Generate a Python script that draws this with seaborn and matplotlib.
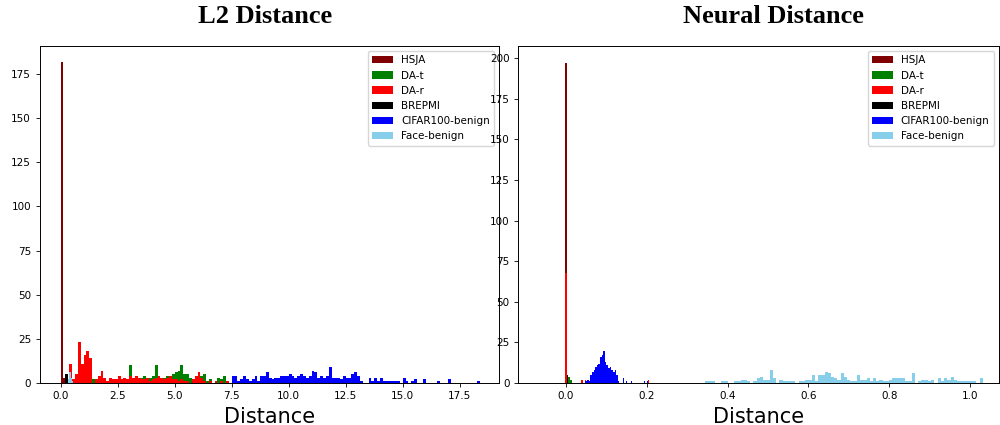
import numpy as np
import pandas as pd
import matplotlib
matplotlib.use("Agg")
import matplotlib.pyplot as plt
from matplotlib.patches import Patch
import seaborn as sns

# ---------------- data (bin start, bin width, counts) ----------------
series_names = ["HSJA", "DA-t", "DA-r", "BREPMI", "CIFAR100-benign", "Face-benign"]
series_colors = ["#800000", "#008000", "#ff0000", "#000000", "#0000ff", "#87ceeb"]

# L2 distance panel
l2_hsja_start, l2_hsja_width = 0.0, 0.1
l2_hsja = [182, 3, 1]

l2_dat_start, l2_dat_width = 1.375, 0.125
l2_dat = [2,
          0, 1, 0, 1,
          1, 0, 2, 1,
          1, 2, 1, 2,
          10, 2, 3, 2,
          3, 4, 2, 3,
          4, 10, 3, 2,
          3, 4, 2, 5,
          6, 7, 10, 5,
          5, 3, 2, 1,
          5, 4, 5, 1,
          2, 0, 1, 3,
          2, 4, 1, 0,
          1, 0, 0, 2, 1]

l2_dar_start, l2_dar_width = 0.375, 0.125
l2_dar = [11, 2, 5, 23, 11, 16, 18, 14,
          0, 2, 4, 7, 3, 1, 3, 2, 2,
          4, 2, 3, 2, 4, 3, 4, 3, 2, 2, 3, 1,
          2, 3, 4, 3, 2, 3, 4, 2,
          2, 1, 2, 1, 1, 0, 2,
          4, 6, 3, 1,
          0, 1, 0, 1, 0, 1, 0, 1,
          0, 0, 1, 0, 0, 0, 0, 0,
          0, 2]

l2_brepmi_start, l2_brepmi_width = 0.2, 0.1
l2_brepmi = [5, 1]

l2_cifar_start, l2_cifar_width = 7.5, 0.125
l2_cifar = [4, 4, 1, 2, 4, 2, 1, 2,
            4, 1, 4, 4, 6, 3, 2, 3,
            3, 4, 4, 4, 5, 4, 3, 4,
            5, 4, 3, 4, 7, 6, 3, 4,
            3, 4, 9, 3, 3, 3, 2, 4,
            3, 3, 5, 6, 4, 1, 0, 0,
            3, 1, 3, 1, 3, 1, 1, 1,
            1, 1, 1, 0, 3, 1, 0, 1,
            2, 0, 0, 2, 0, 0, 0, 0,
            1, 0, 0, 0, 2, 0, 0, 0,
            0, 0, 0, 0, 0, 0, 1]

l2_face_start, l2_face_width = 0.3, 0.05
l2_face = [2, 6, 6, 3, 1]

# Neural distance panel
nd_hsja_start, nd_hsja_width = -0.002, 0.004
nd_hsja = [197]

nd_dat_start, nd_dat_width = 0.002, 0.004
nd_dat = [4, 4, 2]

nd_dar_start, nd_dar_width = -0.002, 0.004
nd_dar = [68] + [0] * 9 + [2, 0, 2] + [0] * 38 + [2]

nd_brepmi_start, nd_brepmi_width = 0.002, 0.004
nd_brepmi = [5]

nd_cifar_start, nd_cifar_width = 0.048, 0.004
nd_cifar = ([1, 2, 1, 5, 7, 8, 10, 11, 12, 16, 17, 20,
             13, 11, 9, 10, 8, 7, 8, 5, 1, 0, 0,
             3, 0, 1, 0, 0, 1]
            + [0] * 7 + [1, 0, 1] + [0] * 40 + [1])

nd_face_start, nd_face_width = 0.344, 0.008
nd_face = [1, 1, 1, 0, 0, 1, 1, 0, 0, 1,
           1, 2, 2, 1, 0, 1, 3, 4, 2, 2,
           8, 3, 0, 2, 1, 1, 1, 1, 0, 1,
           1, 2, 2, 5, 1, 5, 5, 7, 6, 4,
           3, 2, 6, 4, 2, 1, 1, 5, 2, 2,
           3, 1, 3, 1, 2, 1, 1, 2, 3, 3,
           3, 3, 1, 1, 6, 0, 1, 2, 2, 1,
           2, 0, 3, 1, 3, 2, 4, 2, 1, 1,
           1, 1, 1, 1, 0, 3]

l2_series = [(l2_hsja_start, l2_hsja_width, l2_hsja),
             (l2_dat_start, l2_dat_width, l2_dat),
             (l2_dar_start, l2_dar_width, l2_dar),
             (l2_brepmi_start, l2_brepmi_width, l2_brepmi),
             (l2_cifar_start, l2_cifar_width, l2_cifar),
             (l2_face_start, l2_face_width, l2_face)]
nd_series = [(nd_hsja_start, nd_hsja_width, nd_hsja),
             (nd_dat_start, nd_dat_width, nd_dat),
             (nd_dar_start, nd_dar_width, nd_dar),
             (nd_brepmi_start, nd_brepmi_width, nd_brepmi),
             (nd_cifar_start, nd_cifar_width, nd_cifar),
             (nd_face_start, nd_face_width, nd_face)]

# ---------------- plotting ----------------
fig = plt.figure(figsize=(10, 4.25), dpi=100)
axL = fig.add_axes([0.0395, 0.0988, 0.4595, 0.793])
axR = fig.add_axes([0.518, 0.0988, 0.481, 0.793])


def draw(ax, series):
    for (start, width, counts), color in zip(series, series_colors):
        counts = np.asarray(counts, dtype=float)
        edges = start + width * np.arange(len(counts) + 1)
        centers = edges[:-1] + width / 2
        df = pd.DataFrame({"d": centers, "w": counts})
        sns.histplot(data=df, x="d", weights="w", bins=list(edges), color=color,
                     alpha=1, linewidth=0, ax=ax)
    ax.set_ylabel("")
    ax.set_xlabel("Distance", fontsize=15)
    ax.tick_params(labelsize=7.5, length=2.6, width=0.6)
    for s in ax.spines.values():
        s.set_linewidth(0.7)
    handles = [Patch(facecolor=c, edgecolor="none", label=n)
               for n, c in zip(series_names, series_colors)]
    ax.legend(handles=handles, loc="upper right", fontsize=7.5)


draw(axL, l2_series)
axL.set_xlim(-0.93, 19.22)
axL.set_ylim(0, 190.8)
axL.set_xticks([0, 2.5, 5, 7.5, 10, 12.5, 15, 17.5])
axL.set_xticklabels(["0.0", "2.5", "5.0", "7.5", "10.0", "12.5", "15.0", "17.5"])
axL.set_yticks([0, 25, 50, 75, 100, 125, 150, 175])

draw(axR, nd_series)
axR.set_xlim(-0.119, 1.072)
axR.set_ylim(0, 207.4)
axR.set_xticks([0, 0.2, 0.4, 0.6, 0.8, 1.0])
axR.set_xticklabels(["0.0", "0.2", "0.4", "0.6", "0.8", "1.0"])
axR.set_yticks([0, 25, 50, 75, 100, 125, 150, 175, 200])

fig.text(0.265, 0.962, "L2 Distance", ha="center", va="center", fontsize=19,
         fontweight="bold", family="Liberation Serif")
fig.text(0.773, 0.962, "Neural Distance", ha="center", va="center", fontsize=19,
         fontweight="bold", family="Liberation Serif")

fig.savefig("out.png", dpi=100)
